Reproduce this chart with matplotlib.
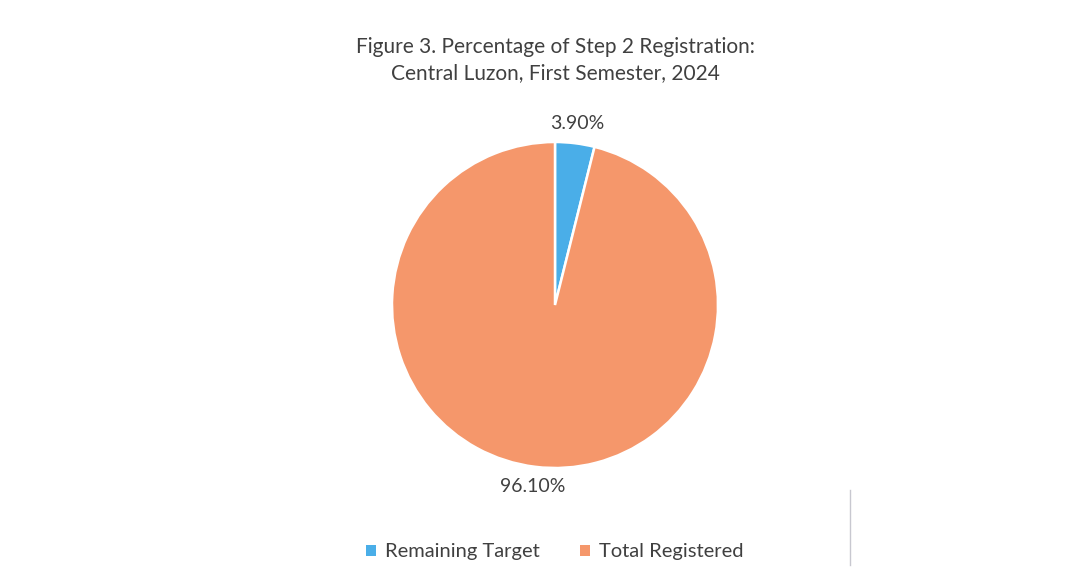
import matplotlib
matplotlib.use("Agg")
import matplotlib.pyplot as plt
from matplotlib.patches import Patch
from matplotlib.lines import Line2D

# data
categories = ["Remaining Target", "Total Registered"]
shares = [3.90, 96.10]
colors = ["#4aaee8", "#f5976b"]

TITLE = "Figure 3. Percentage of Step 2 Registration:\nCentral Luzon, First Semester, 2024"
TEXT = "#404040"

plt.rcParams["font.family"] = ["Lato", "DejaVu Sans"]

W, H = 1085, 583
fig = plt.figure(figsize=(W / 100, H / 100), dpi=100)

# pie centred at (555, 305) px, radius ~163 px
cx, cy, r = 555, 305, 163
ax = fig.add_axes([(cx - r) / W, (H - cy - r) / H, 2 * r / W, 2 * r / H])
wedges, texts = ax.pie(
    shares, colors=colors, startangle=90, counterclock=False,
    labels=[f"{v:.2f}%" for v in shares], labeldistance=1.12,
    wedgeprops=dict(edgecolor="white", linewidth=1.8),
    textprops=dict(color=TEXT, fontsize=14, ha="center", va="center"),
)
ax.set_xlim(-1, 1)
ax.set_ylim(-1, 1)
ax.set_aspect("auto")
ax.axis("off")

fig.text(cx / W, 1 - 60 / H, TITLE, ha="center", va="center",
         fontsize=15, color=TEXT, linespacing=1.4)

handles = [Patch(facecolor=c, edgecolor="none") for c in colors]
fig.legend(handles, categories, loc="center", bbox_to_anchor=(cx / W, 1 - 552 / H),
           ncol=2, frameon=False, fontsize=14.5, labelcolor=TEXT,
           handlelength=0.5, handleheight=0.5, handletextpad=0.45,
           columnspacing=2.0)

# faint scan line at the right
fig.add_artist(Line2D([850 / W, 850 / W], [1 - 490 / H, 1 - 565 / H],
                      color="#c8c8d0", linewidth=1.0))

fig.savefig("out.png", dpi=100, facecolor="white")
